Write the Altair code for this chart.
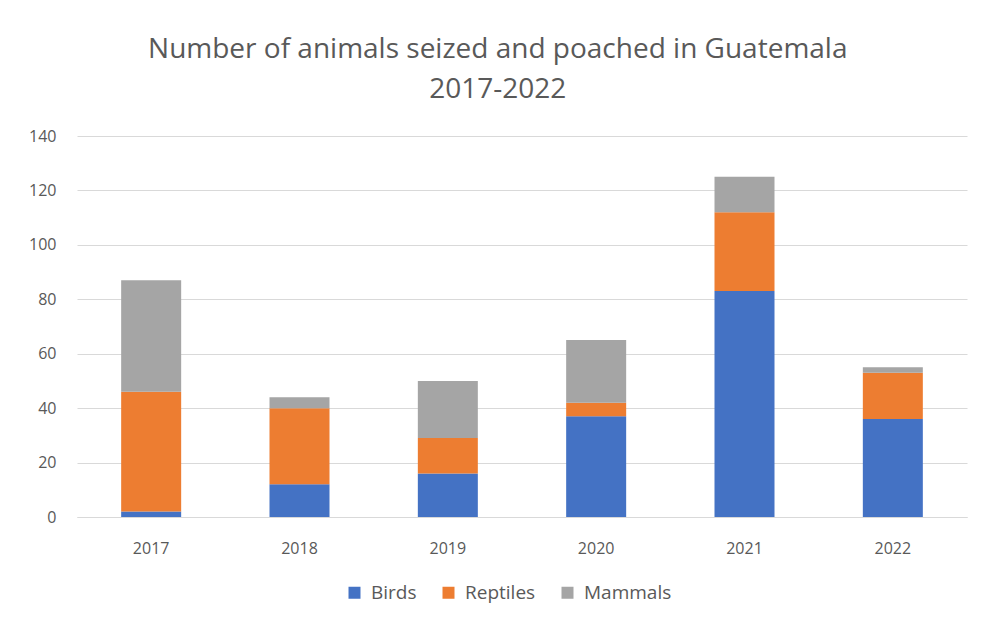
import altair as alt
import pandas as pd

years = ["2017", "2018", "2019", "2020", "2021", "2022"]
series = ["Birds", "Reptiles", "Mammals"]
birds = [2, 12, 16, 37, 83, 36]
reptiles = [44, 28, 13, 5, 29, 17]
mammals = [41, 4, 21, 23, 13, 2]
colors = ["#4472C4", "#ED7D31", "#A5A5A5"]

rows = []
for i, y in enumerate(years):
    for k, (name, vals) in enumerate(zip(series, [birds, reptiles, mammals])):
        rows.append({"Year": y, "Type": name, "Count": vals[i], "ord": k})
df = pd.DataFrame(rows)

font = "Open Sans"
chart = alt.Chart(df).mark_bar(size=60).encode(
    x=alt.X("Year:N", sort=years, title=None,
            scale=alt.Scale(paddingInner=0.6, paddingOuter=0.3),
            axis=alt.Axis(labelAngle=0, ticks=False, domainColor="#d9d9d9",
                          labelFontSize=16, labelColor="#595959", labelFont=font,
                          labelPadding=23, grid=False)),
    y=alt.Y("Count:Q", title=None, stack="zero",
            scale=alt.Scale(domain=[0, 140]),
            axis=alt.Axis(values=[0, 20, 40, 60, 80, 100, 120, 140], domain=False, ticks=False,
                          gridColor="#d9d9d9", labelFontSize=16, labelColor="#595959",
                          labelFont=font, labelPadding=21)),
    color=alt.Color("Type:N", sort=series,
                    scale=alt.Scale(domain=series, range=colors),
                    legend=alt.Legend(orient="none", legendX=268, legendY=447,
                                      direction="horizontal", title=None, symbolType="square",
                                      symbolSize=144, labelFontSize=19, labelFont=font,
                                      labelColor="#595959", columnPadding=22, labelOffset=7,
                                      symbolStrokeWidth=0)),
    order=alt.Order("ord:Q", sort="ascending"),
).properties(
    width=890, height=381,
    title=alt.Title(["Number of animals seized and poached in Guatemala", "2017-2022"],
                    fontSize=28, font=font, fontWeight="normal", color="#595959",
                    anchor="middle", frame="bounds", lineHeight=40, offset=24),
    padding={"left": 20, "top": 28, "right": 5, "bottom": 5},
).configure(background="white").configure_view(stroke=None)

chart.save("out.html", embed_options={"renderer": "svg", "actions": False})
